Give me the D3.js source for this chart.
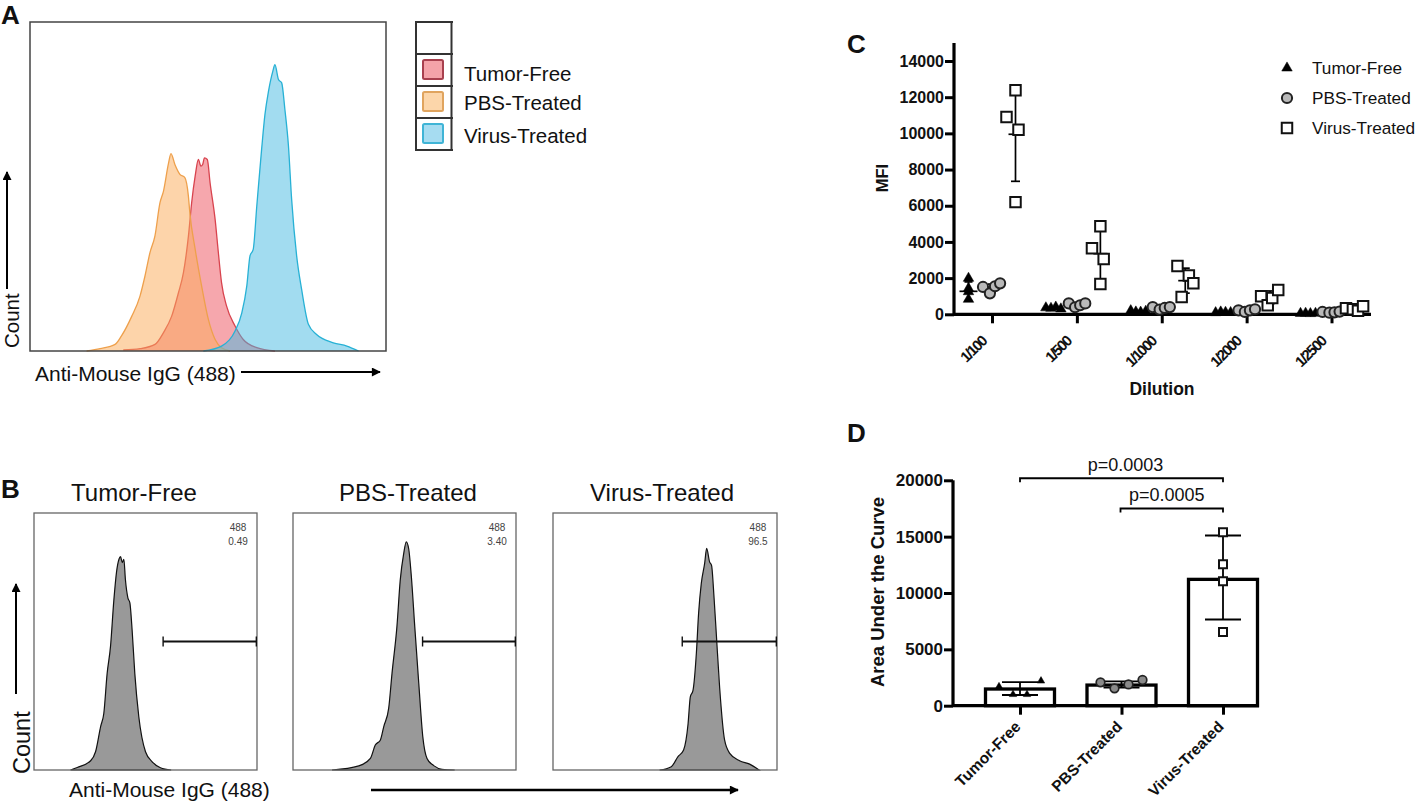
<!DOCTYPE html>
<meta charset="utf-8">
<style>
body{margin:0;background:#fff;}
svg{display:block;}
text{font-family:"Liberation Sans",Arial,sans-serif;fill:#111;}
.bold{font-weight:bold;}
.axis path,.axis line{stroke:#000;}
</style>
<script src="https://cdn.jsdelivr.net/npm/d3@7"></script>
<svg id="fig" width="1417" height="801"></svg>
<script>
// panel A, overlay histograms: channel (0-1000) and count (0-100)
var aTumorCh = [262,309,351,375,398,417,431,445,454,464,473,480,485,490,498,506,520,529,538,552,576,599,637,688]
var aTumorCt = [0.3,0.7,2,5.6,10.6,17.7,23.8,34.9,45,53.2,58.2,56.2,56.7,58.7,58.2,51,40,30,20.8,13.7,7.6,3.5,1,0]
var aPbsCh = [159,197,239,257,286,309,323,337,351,365,375,389,396,407,421,435,445,449,464,482,501,520,538,562]
var aPbsCt = [0,0.7,2,4.6,10.6,16.7,22.8,29.9,35,45,48.6,57,60,56.7,53.7,52.7,47,42,30.9,19.8,9.6,3.5,1,0]
var aVirusCh = [487,538,576,595,609,618,627,637,651,660,670,682,688,698,707,716,726,735,749,763,782,805,852,890,923]
var aVirusCt = [0,1.5,6.1,11.6,19.8,28.9,30.9,44,61.8,71.9,79,85,87,82.5,81.5,73.4,62.3,46,28.9,18.7,8.1,5,2.5,1.5,0]
var legendNames = ["Tumor-Free","PBS-Treated","Virus-Treated"]

// panel B, gated histograms
var bTumorCh = [164,194,254,276,299,313,328,343,358,370,381,388,396,403,410,421,430,440,452,470,500,530,567,615]
var bTumorCt = [0,1,3.6,7.1,17,22,37.6,48,66,77,82,83,80.7,82,74,67,65,54.5,37.6,20.7,7.1,3.2,0.9,0]
var bPbsCh = [175,295,347,369,392,407,429,444,466,481,496,508,519,531,546,564,582,601,631,668,725]
var bPbsCt = [0,1.6,4.5,9.7,11.7,16.9,24,37.6,55.8,74,84,88.8,86,75,55.8,33.7,13,4.5,1.7,0.3,0]
var bVirusCh = [476,528,558,583,603,613,625,640,650,662,677,686,699,708,719,729,744,766,789,833,878,920]
var bVirusCt = [0,1.3,5.2,7.8,18,28.5,31,45.4,61,72.6,80.4,86.2,81,79.5,67,53,32,11.7,6.5,3.6,2.3,0]
var bGateFrom = [579,581,577]
var bPercent = ["0.49","3.40","96.5"]

// panel C
var dilutions = ["1/100","1/500","1/1000","1/2000","1/2500"]
var mfiTicks = [0,2000,4000,6000,8000,10000,12000,14000]
var cTumor = [[1990,1430,1250,830],[360,330,400,300],[200,130,120,170],[90,130,110,100],[50,60,40,55]]
var cPbs = [[1510,1160,1550,1710],[600,390,500,600],[400,260,350,400],[220,130,220,280],[130,90,110,150]]
var cVirus = [[12380,10900,10200,6200],[4870,3650,3060,1680],[2670,960,2150,1710],[1000,500,900,1340],[330,280,200,440]]
var cTumorMean = [1270,350,155,105,50]
var cTumorSd = [520,60,40,20,10]
var cPbsMean = [1450,530,350,215,120]
var cPbsSd = [220,100,70,40,25]
var cVirusMean = [9950,3350,1860,940,310]
var cVirusSd = [2600,1400,690,350,90]
// which swarm column each point above sits in
var colsTumor = [[0,0,0,0],[-2.5,-0.8,0.8,2.5],[-2.5,-0.8,0.8,2.5],[-2.5,-0.8,0.8,2.5],[-2.5,-0.8,0.8,2.5]]
var colsPbs = [[-3,-0.7,1,2.7],[-2.7,-0.6,1.1,2.8],[-3,-0.7,1,2.7],[-2.7,-0.6,1.1,2.8],[-3,-0.7,1,2.7]]
var colsVirus = [[0,-3,1,0],[0,-2.8,1.1,0],[-2.6,-1.2,1.2,2.7],[-3,-0.8,0.7,2.7],[-3,-0.7,1,2.7]]

// panel D
var groups = ["Tumor-Free","PBS-Treated","Virus-Treated"]
var aucTicks = [0,5000,10000,15000,20000]
var aucMean = [1480,1830,11210]
var aucLow = [950,1600,7650]
var aucHigh = [2100,2150,15100]
var aucPoints = [[1690,1000,1000,2200],[2070,1540,1890,2280],[15380,12540,11040,6540]]
var colsAuc = [[-3,-1,1,3],[-3,-1,1,3],[0,0,0,0]]
var pValues = [{from:0,label:"p=0.0003",level:20180},{from:1,label:"p=0.0005",level:17500}]

var svg = d3.select("#fig")
var defs = svg.append("defs")
defs.append("marker").attr("id","tip").attr("viewBox","0 0 10 10").attr("refX",9).attr("refY",5)
	.attr("markerWidth",10).attr("markerHeight",9).attr("markerUnits","userSpaceOnUse").attr("orient","auto")
	.append("path").attr("d","M0,0L10,5L0,10z").attr("fill","#000")

function arrow(x1,y1,x2,y2,w){
	svg.append("line").attr("x1",x1).attr("y1",y1).attr("x2",x2).attr("y2",y2)
		.attr("stroke","#000").attr("stroke-width",w).attr("marker-end","url(#tip)")
}
function label(x,y,t,size,opts){
	opts = opts || {}
	var el = svg.append("text").attr("x",x).attr("y",y).text(t).attr("font-size",size)
		.attr("text-anchor",opts.anchor||"start")
	if(opts.bold) el.attr("class","bold")
	if(opts.rotate) el.attr("transform","rotate("+opts.rotate+" "+x+" "+y+")")
	if(opts.spacing) el.style("letter-spacing",opts.spacing)
	return el
}
function zip(a,b){ return a.map(function(d,i){return [d,b[i]]}) }

label(1,24,"A",26,{bold:true})
label(1,498,"B",26,{bold:true})
label(847,53,"C",26,{bold:true})
label(847,442,"D",26,{bold:true})

//---- panel A
var ax = d3.scaleLinear().domain([0,1000]).range([30,386])
var ay = d3.scaleLinear().domain([0,100]).range([351,22])
var aArea = d3.area().x(function(d){return ax(d[0])}).y0(ay(0)).y1(function(d){return ay(d[1])}).curve(d3.curveMonotoneX)
var aLine = d3.line().x(function(d){return ax(d[0])}).y(function(d){return ay(d[1])}).curve(d3.curveMonotoneX)
var aSeries = [
	{pts:zip(aTumorCh,aTumorCt),fill:"#ee505c",alpha:0.5,swatch:"#f4a3a9",line:"#d8434e"},
	{pts:zip(aPbsCh,aPbsCt),fill:"#fbac5c",alpha:0.52,swatch:"#fcd6aa",line:"#eea04c"},
	{pts:zip(aVirusCh,aVirusCt),fill:"#46b9e1",alpha:0.5,swatch:"#a6dcf1",line:"#27b1d5"}
]
aSeries.forEach(function(s){
	svg.append("path").attr("d",aArea(s.pts)).attr("fill",s.fill).attr("fill-opacity",s.alpha)
	svg.append("path").attr("d",aLine(s.pts)).attr("fill","none").attr("stroke",s.line).attr("stroke-width",1.3)
})
svg.append("rect").attr("x",ax(0)).attr("y",ay(100)).attr("width",ax(1000)-ax(0)).attr("height",ay(0)-ay(100))
	.attr("fill","none").attr("stroke","#444").attr("stroke-width",1.5)
label(35,381,"Anti-Mouse IgG (488)",21)
arrow(241,372,380,372,2)
label(18.5,348,"Count",20.5,{rotate:-90})
arrow(7,289,7,172,2)

// legend grid
var rowY = d3.scaleBand().domain(["","Tumor-Free","PBS-Treated","Virus-Treated"]).range([22,150])
rowY.domain().forEach(function(n,i){
	svg.append("line").attr("x1",416).attr("x2",453).attr("y1",rowY(n)).attr("y2",rowY(n)).attr("stroke","#333").attr("stroke-width",2)
})
svg.append("line").attr("x1",416).attr("x2",453).attr("y1",150).attr("y2",150).attr("stroke","#333").attr("stroke-width",2)
svg.append("line").attr("x1",416).attr("x2",416).attr("y1",21).attr("y2",151).attr("stroke","#333").attr("stroke-width",2)
svg.append("line").attr("x1",451.5).attr("x2",451.5).attr("y1",21).attr("y2",151).attr("stroke","#333").attr("stroke-width",2)
var swatchStroke = ["#a8404e","#e0a45e","#3fb4d6"]
var legendDrop = [26.5,24,25]
legendNames.forEach(function(n,i){
	svg.append("rect").attr("x",423).attr("y",rowY(n)+6).attr("width",20).attr("height",19).attr("rx",1.5)
		.attr("fill",aSeries[i].swatch).attr("stroke",swatchStroke[i]).attr("stroke-width",2)
	label(464,rowY(n)+legendDrop[i],n,20.5)
})

//---- panel B
var bFrames = [[34,257],[293,516],[553,777]]
var bTitles = [[134,"Tumor-Free"],[408,"PBS-Treated"],[662,"Virus-Treated"]]
var bData = [zip(bTumorCh,bTumorCt),zip(bPbsCh,bPbsCt),zip(bVirusCh,bVirusCt)]
var by = d3.scaleLinear().domain([0,100]).range([770,513])
bFrames.forEach(function(f,i){
	var bx = d3.scaleLinear().domain([0,1000]).range(f)
	svg.append("path")
		.attr("d",d3.area().x(function(d){return bx(d[0])}).y0(by(0)).y1(function(d){return by(d[1])}).curve(d3.curveMonotoneX)(bData[i]))
		.attr("fill","#999").attr("stroke","#111").attr("stroke-width",1.2)
	svg.append("rect").attr("x",f[0]).attr("y",by(100)).attr("width",f[1]-f[0]).attr("height",by(0)-by(100))
		.attr("fill","none").attr("stroke","#666").attr("stroke-width",1.3)
	svg.append("line").attr("x1",bx(bGateFrom[i])).attr("x2",bx(997)).attr("y1",by(50)).attr("y2",by(50)).attr("stroke","#111").attr("stroke-width",2)
	;[bGateFrom[i],997].forEach(function(c){
		svg.append("line").attr("x1",bx(c)).attr("x2",bx(c)).attr("y1",by(50)-5).attr("y2",by(50)+5).attr("stroke","#111").attr("stroke-width",1.4)
	})
	label(bx(915),531,"488",10,{anchor:"middle"}).style("fill","#444")
	label(bx(915),545,bPercent[i],10,{anchor:"middle"}).style("fill","#444")
	label(bTitles[i][0],501,bTitles[i][1],24,{anchor:"middle"})
})
label(69,797,"Anti-Mouse IgG (488)",21)
arrow(371,790,738,790,2.4)
label(30,774,"Count",23.5,{rotate:-90})
arrow(16,694,16,584,2)

//---- panel C
var cx = d3.scalePoint().domain(dilutions).range([992,1331.5])
var cy = d3.scaleLinear().domain([0,14000]).range([314.3,61])
var cSub = d3.scalePoint().domain(legendNames).range([-23.5,23.5])
var colStep = 3

svg.append("g").attr("class","axis").attr("transform","translate(954,0)")
	.call(d3.axisLeft(cy).tickValues(mfiTicks).tickSize(9).tickSizeOuter(0).tickPadding(1).tickFormat(d3.format("d")))
	.call(function(g){
		g.select(".domain").attr("d","M0,"+cy(0)+"V43").attr("stroke-width",3.2)
		g.selectAll("line").attr("stroke-width",3)
		g.selectAll("text").attr("class","bold").attr("font-size",16).style("font-family","Liberation Sans")
	})
svg.append("g").attr("class","axis").attr("transform","translate(0,314.3)")
	.call(d3.axisBottom(cx).tickSize(9).tickSizeOuter(0).tickFormat(""))
	.call(function(g){
		g.select(".domain").attr("d","M954,0H1371").attr("stroke-width",3.2)
		g.selectAll("line").attr("stroke-width",3)
	})
dilutions.forEach(function(d){
	label(cx(d)-12,335,d,15,{bold:true,anchor:"end",rotate:-45,spacing:"-1.6px"}).attr("dy","0.7em")
})
label(1162,395,"Dilution",17.5,{bold:true,anchor:"middle"})
label(888,178,"MFI",16.5,{bold:true,anchor:"middle",rotate:-90})

var sym = {
	tri:function(size){return d3.symbol().type(d3.symbolTriangle).size(size)()},
	cir:function(size){return d3.symbol().type(d3.symbolCircle).size(size)()},
	sq:function(size){return d3.symbol().type(d3.symbolSquare).size(size)()}
}
var cSeries = [
	{name:legendNames[0],vals:cTumor,cols:colsTumor,mean:cTumorMean,sd:cTumorSd,path:sym.tri(48),fill:"#000",stroke:"#000",half:9,cap:4},
	{name:legendNames[1],vals:cPbs,cols:colsPbs,mean:cPbsMean,sd:cPbsSd,path:sym.cir(82),fill:"#b9b9b9",stroke:"#222",half:7,cap:4},
	{name:legendNames[2],vals:cVirus,cols:colsVirus,mean:cVirusMean,sd:cVirusSd,path:sym.sq(110),fill:"#fff",stroke:"#111",half:7,cap:4.5}
]
cSeries.forEach(function(s){
	dilutions.forEach(function(dil,i){
		var mid = cx(dil)+cSub(s.name)
		var g = svg.append("g")
		var m = s.mean[i], sd = s.sd[i]
		g.append("line").attr("x1",mid).attr("x2",mid).attr("y1",cy(m-sd)).attr("y2",cy(m+sd)).attr("stroke","#000").attr("stroke-width",1.7)
		g.append("line").attr("x1",mid-s.half).attr("x2",mid+s.half).attr("y1",cy(m)).attr("y2",cy(m)).attr("stroke","#000").attr("stroke-width",1.7)
		;[m-sd,m+sd].forEach(function(v){
			g.append("line").attr("x1",mid-s.cap).attr("x2",mid+s.cap).attr("y1",cy(v)).attr("y2",cy(v)).attr("stroke","#000").attr("stroke-width",1.7)
		})
		g.selectAll("path").data(s.vals[i]).enter().append("path")
			.attr("d",s.path)
			.attr("transform",function(v,k){return "translate("+(mid+s.cols[i][k]*colStep)+","+cy(v)+")"})
			.attr("fill",s.fill).attr("stroke",s.stroke).attr("stroke-width",s.fill=="#000"?0.5:2)
	})
})
var cLegend = d3.scalePoint().domain(legendNames).range([68,128])
cSeries.forEach(function(s){
	svg.append("path").attr("d",s.path).attr("transform","translate(1287,"+cLegend(s.name)+")")
		.attr("fill",s.fill).attr("stroke",s.stroke).attr("stroke-width",s.fill=="#000"?0.5:2)
	label(1312,cLegend(s.name)+6,s.name,17.2)
})

//---- panel D
var dx = d3.scalePoint().domain(groups).range([1020,1223])
var dy = d3.scaleLinear().domain([0,20000]).range([705.7,480.3])
var barW = 69

svg.append("g").attr("class","axis").attr("transform","translate(953,0)")
	.call(d3.axisLeft(dy).tickValues(aucTicks).tickSize(9).tickSizeOuter(0).tickPadding(1).tickFormat(d3.format("d")))
	.call(function(g){
		g.select(".domain").attr("d","M0,"+dy(0)+"V"+dy(20000)).attr("stroke-width",3.2)
		g.selectAll("line").attr("stroke-width",3)
		g.selectAll("text").attr("class","bold").attr("font-size",17).style("font-family","Liberation Sans")
	})
svg.selectAll(".bar").data(groups).enter().append("rect").attr("class","bar")
	.attr("x",function(d){return dx(d)-barW/2}).attr("width",barW)
	.attr("y",function(d,i){return dy(aucMean[i])}).attr("height",function(d,i){return dy(0)-dy(aucMean[i])})
	.attr("fill","#fff").attr("stroke","#000").attr("stroke-width",3.3)
svg.append("g").attr("class","axis").attr("transform","translate(0,"+dy(0)+")")
	.call(d3.axisBottom(dx).tickSize(9).tickSizeOuter(0).tickFormat(""))
	.call(function(g){
		g.select(".domain").attr("d","M953,0H1259").attr("stroke-width",3.2)
		g.selectAll("line").attr("stroke-width",3)
	})
groups.forEach(function(d){
	label(dx(d)-6,720,d,15.5,{bold:true,anchor:"end",rotate:-45}).attr("dy","0.7em")
})
label(884,592,"Area Under the Curve",18.5,{bold:true,anchor:"middle",rotate:-90})

var dMarks = [
	{path:sym.tri(24),fill:"#000",stroke:"#000",w:0.5,col:7},
	{path:sym.cir(58),fill:"#8a8a8a",stroke:"#222",w:1.7,col:7},
	{path:sym.sq(64),fill:"#fff",stroke:"#111",w:2,col:0}
]
var capHalf = [18,18,18]
groups.forEach(function(gr,i){
	var g = svg.append("g"), mid = dx(gr)
	g.append("line").attr("x1",mid).attr("x2",mid).attr("y1",dy(aucLow[i])).attr("y2",dy(aucHigh[i])).attr("stroke","#000").attr("stroke-width",1.8)
	;[aucLow[i],aucHigh[i]].forEach(function(v){
		g.append("line").attr("x1",mid-capHalf[i]).attr("x2",mid+capHalf[i]).attr("y1",dy(v)).attr("y2",dy(v)).attr("stroke","#000").attr("stroke-width",1.8)
	})
	g.selectAll("path").data(aucPoints[i]).enter().append("path")
		.attr("d",dMarks[i].path)
		.attr("transform",function(v,k){return "translate("+(mid+colsAuc[i][k]*dMarks[i].col)+","+dy(v)+")"})
		.attr("fill",dMarks[i].fill).attr("stroke",dMarks[i].stroke).attr("stroke-width",dMarks[i].w)
})
pValues.forEach(function(p){
	var x1 = dx(groups[p.from])+(p.from==1?-1:0), x2 = dx(groups[2])
	svg.append("path").attr("d","M"+x1+","+(dy(p.level)+4)+"V"+dy(p.level)+"H"+x2+"V"+(dy(p.level)+4))
		.attr("fill","none").attr("stroke","#000").attr("stroke-width",1.8)
	label((x1+x2)/2+(p.from==1?-5:4),dy(p.level)-7,p.label,18,{anchor:"middle"})
})
</script>
